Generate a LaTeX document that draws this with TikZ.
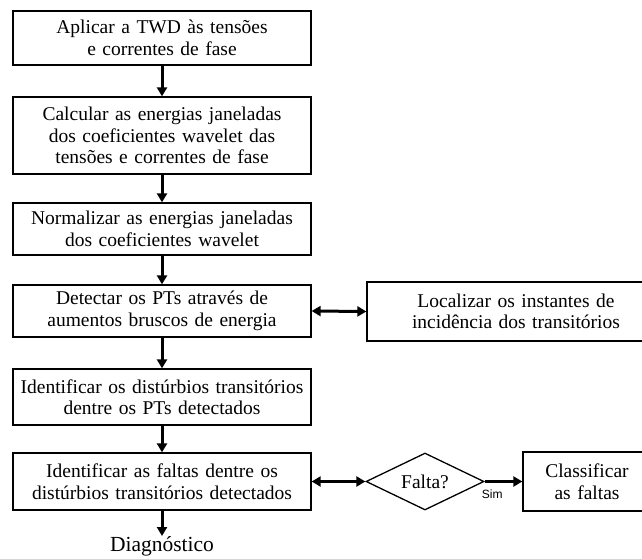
\documentclass[tikz,border=0pt]{standalone}
\usepackage{fontspec}
\setmainfont{Liberation Serif}
\newfontfamily\simfont{Liberation Sans}
\usetikzlibrary{arrows.meta,shapes.geometric}
\begin{document}
\begin{tikzpicture}[x=1pt,y=-1pt,
  txt/.style={font=\fontsize{19.5}{21.5}\selectfont},
  box/.style={draw,line width=1.3pt,align=center,inner sep=0pt,txt},
  lbox/.style={box,minimum width=298pt,text width=296pt},
  dia/.style={draw,diamond,line width=1.3pt,inner sep=0pt,aspect=2.07,
    minimum width=118pt,minimum height=57pt,txt},
  flow/.style={line width=3pt,-{Triangle[length=9pt,width=10pt]}},
  dflow/.style={line width=3pt,{Triangle[length=9pt,width=10pt]}-{Triangle[length=9pt,width=10pt]}}
]
\useasboundingbox (0,0) rectangle (642,559);
\node[lbox,minimum height=54pt] (b1) at (162,38) {Aplicar a TWD às tensões\\e correntes de fase};
\node[lbox,minimum height=77pt] (b2) at (162,135.5) {Calcular as energias janeladas\\dos coeficientes wavelet das\\tensões e correntes de fase};
\node[lbox,minimum height=52pt] (b3) at (162,229) {Normalizar as energias janeladas\\dos coeficientes wavelet};
\node[lbox,minimum height=52pt] (b4) at (162,311) {Detectar os PTs através de\\aumentos bruscos de energia};
\node[lbox,minimum height=56pt] (b5) at (162,397) {Identificar os distúrbios transitórios\\dentre os PTs detectados};
\node[lbox,minimum height=57pt] (b6) at (162,481.5) {Identificar as faltas dentre os\\distúrbios transitórios detectados};
\node[font=\fontsize{21.5}{24}\selectfont,inner sep=0pt] (diag) at (162,546) {Diagnóstico};
\node[box,minimum width=298pt,text width=296pt,minimum height=59pt] (loc) at (516,311.5) {Localizar os instantes de\\incidência dos transitórios};
\node[dia] (falta) at (425,481.5) {Falta?};
\node[box,minimum width=128pt,text width=126pt,minimum height=59pt] (cls) at (587,481.5) {Classificar\\as faltas};
\draw[flow] (b1) -- (b2);
\draw[flow] (b2) -- (b3);
\draw[flow] (b3) -- (b4);
\draw[flow] (b4) -- (b5);
\draw[flow] (b5) -- (b6);
\draw[flow] (b6.south) -- (diag.north);
\draw[dflow] (b4.east) -- (loc.west);
\draw[dflow] (b6.east) -- (falta.west);
\draw[flow] (falta.east) -- node[below=3pt,pos=0.2,font=\simfont\fontsize{12}{14}\selectfont] (sim) {Sim} (cls.west);
\end{tikzpicture}
\end{document}
